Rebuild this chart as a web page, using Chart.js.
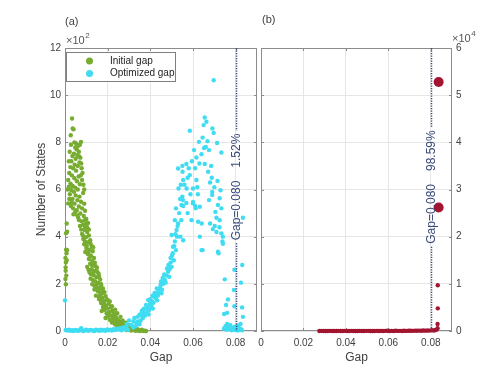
<!DOCTYPE html>
<html>
<head>
<meta charset="utf-8">
<script src="https://cdn.jsdelivr.net/npm/chart.js@4.4.1/dist/chart.umd.min.js"></script>
<style>
  html, body { margin: 0; padding: 0; background: #fff; }
  #wrap { position: relative; width: 500px; height: 374px; }
  #wrap canvas { position: absolute; left: 0; top: 0; }
</style>
</head>
<body>
<div id="wrap">
  <canvas id="chartA" width="500" height="374"></canvas>
  <canvas id="chartB" width="500" height="374"></canvas>
</div>
<script>
// --- Data (gap, number of states) ---
const gapTicks = [0, 0.02, 0.04, 0.06, 0.08];
const statesTicksA = [0, 200, 400, 600, 800, 1000, 1200];      // shown as x10^2
const statesTicksB = [0, 10000, 20000, 30000, 40000, 50000, 60000]; // shown as x10^4
const gapThreshold = 0.080;
const shareLabels = ['1.52%', '98.59%'];
const seriesNames = ['Initial gap', 'Optimized gap'];

const initialGap = [
  [0.0002,220],[0.0003,255],[0.0004,290],[0.0002,310],[0.0005,345],[0.0003,270],[0.0006,235],
  [0.0008,300],[0.0010,343],[0.0010,421],[0.0008,456],[0.0015,541],[0.0005,415],[0.0004,198],[0.0007,330],
  [0.0033,901],[0.0036,859],[0.0040,855],[0.0027,830],[0.0075,802],[0.0070,790],[0.0062,785],[0.0055,770],
  [0.0048,778],[0.0065,760],[0.0042,752],[0.0058,745],[0.0072,735],[0.0035,742],[0.0050,730],[0.0030,720],
  [0.0068,715],[0.0045,705],[0.0060,700],[0.0025,695],[0.0038,690],[0.0078,690],[0.0052,680],[0.0020,670],
  [0.0032,660],[0.0064,655],[0.0044,648],[0.0015,640],[0.0056,635],[0.0026,625],[0.0070,622],[0.0036,615],
  [0.0048,608],[0.0018,612],[0.0080,640],[0.0060,600],[0.0029,598],[0.0042,590],
  [0.0023,580],[0.0050,575],[0.0068,570],[0.0085,585],[0.0035,560],[0.0058,555],[0.0075,548],[0.0045,540],
  [0.0090,540],[0.0028,530],[0.0065,528],[0.0080,520],[0.0055,512],[0.0094,510],[0.0072,498],[0.0040,495],
  [0.0088,488],[0.0062,480],[0.0100,475],[0.0078,465],[0.0108,458],[0.0085,450],[0.0070,445],[0.0095,440],
  [0.0092,428],[0.0104,420],[0.0080,412],[0.0112,405],[0.0098,398],[0.0086,390],[0.0118,385],[0.0106,375],
  [0.0090,368],[0.0125,360],[0.0100,352],[0.0115,345],[0.0130,338],[0.0095,335],[0.0108,325],[0.0122,318],
  [0.0136,310],[0.0112,305],[0.0128,298],
  [0.0140,290],[0.0118,285],[0.0132,278],[0.0104,272],[0.0150,268],[0.0125,262],[0.0140,255],[0.0115,248],
  [0.0158,242],[0.0135,236],[0.0148,228],[0.0120,222],[0.0165,218],[0.0142,210],[0.0155,204],[0.0128,198],
  [0.0170,195],[0.0148,188],[0.0162,182],[0.0138,176],[0.0175,172],
  [0.0155,168],[0.0180,162],[0.0168,155],[0.0145,150],[0.0190,148],[0.0175,140],[0.0160,135],[0.0200,132],
  [0.0185,125],[0.0170,118],[0.0205,115],[0.0192,108],[0.0178,102],[0.0215,100],[0.0200,95],[0.0185,90],
  [0.0222,86],[0.0208,80],[0.0195,75],[0.0230,72],[0.0215,66],[0.0200,62],[0.0238,60],[0.0225,55],
  [0.0245,50],[0.0210,48],[0.0232,45],[0.0255,42],[0.0240,38],[0.0220,36],[0.0265,34],[0.0250,30],
  [0.0235,28],[0.0275,26],[0.0260,22],[0.0285,20],[0.0245,18],[0.0270,16],[0.0295,14],[0.0305,12],[0.0280,10],
  [0.0300,8],[0.0315,6],[0.0325,5],[0.0290,4],[0.0335,3],[0.0345,2],[0.0355,2],[0.0365,1],[0.0375,1],
  [0.0310,2],[0.0330,1],[0.0350,0],[0.0370,0],[0.0380,0],
  [0.0012,600],[0.0018,720],[0.0022,760],[0.0028,790],[0.0044,800],[0.0052,795],[0.0066,740],[0.0076,710],
  [0.0082,670],[0.0074,660],[0.0086,620],[0.0090,600],[0.0020,560],[0.0032,545],[0.0038,520],[0.0048,505],
  [0.0058,490],[0.0066,470],[0.0092,470],[0.0098,455],[0.0104,440],[0.0112,430],[0.0076,430],[0.0084,405],
  [0.0094,380],[0.0102,360],[0.0120,370],[0.0110,335],[0.0118,320],[0.0132,355],[0.0126,280],[0.0144,275],
  [0.0110,260],[0.0134,250],[0.0152,250],[0.0122,240],[0.0160,230],[0.0132,215],[0.0150,200],[0.0140,190],
  [0.0168,200],[0.0178,180],[0.0152,175],[0.0165,160],[0.0185,165],[0.0158,145],[0.0195,135],[0.0168,128],
  [0.0182,112],[0.0210,125],[0.0190,98],[0.0220,105],[0.0172,85],[0.0235,90],[0.0205,70],[0.0245,75],
  [0.0190,55],[0.0260,60],[0.0228,40],[0.0270,45],[0.0285,35],[0.0255,25],[0.0300,25],[0.0318,18],
  [0.0340,8],[0.0360,5],[0.0322,12]
];

const optimizedGap = [
  [0.0000,130],[0.0076,12],
  [0.0003,4],[0.0010,2],[0.0018,5],[0.0025,1],[0.0033,3],[0.0040,0],[0.0048,4],[0.0055,2],[0.0063,1],
  [0.0070,5],[0.0078,3],[0.0085,0],[0.0093,2],[0.0100,6],[0.0108,1],[0.0115,3],[0.0123,4],[0.0130,2],
  [0.0138,0],[0.0145,5],[0.0153,3],[0.0160,1],[0.0168,6],[0.0175,2],[0.0183,4],[0.0190,1],[0.0198,7],
  [0.0205,3],[0.0213,5],[0.0220,2],[0.0228,8],[0.0235,4],[0.0243,10],[0.0250,6],[0.0258,12],[0.0265,3],
  [0.0273,15],[0.0280,8],[0.0288,20],[0.0295,5],
  [0.0290,30],[0.0300,45],[0.0310,25],[0.0320,40],[0.0325,55],[0.0330,20],[0.0335,35],[0.0340,60],[0.0345,28],
  [0.0350,70],[0.0355,45],[0.0360,85],[0.0366,89],[0.0365,55],[0.0370,95],[0.0375,65],[0.0380,110],[0.0385,80],
  [0.0390,131],[0.0395,90],[0.0400,135],[0.0405,105],[0.0410,150],[0.0415,120],[0.0420,161],[0.0425,140],
  [0.0430,180],[0.0435,150],[0.0445,182],[0.0440,160],[0.0450,210],[0.0455,175],
  [0.0460,200],[0.0468,216],[0.0475,235],[0.0483,251],[0.0490,262],[0.0495,290],[0.0500,272],[0.0502,320],
  [0.0506,357],[0.0510,300],[0.0515,380],[0.0520,343],[0.0523,428],[0.0500,407],[0.0515,470],[0.0530,456],
  [0.0525,400],[0.0541,400],[0.0554,385],[0.0546,534],[0.0553,555],
  [0.0697,1063],[0.0655,905],[0.0663,887],[0.0650,873],[0.0691,859],[0.0697,840],[0.0585,849],[0.0628,802],
  [0.0668,805],[0.0713,797],[0.0605,767],[0.0652,776],[0.0675,767],[0.0733,757],[0.0616,736],[0.0640,750],
  [0.0655,708],[0.0569,708],[0.0530,689],[0.0550,700],[0.0580,690],[0.0551,675],[0.0585,661],[0.0616,640],
  [0.0554,640],[0.0543,620],[0.0671,675],[0.0688,650],[0.0680,630],[0.0715,636],[0.0600,604],[0.0570,604],
  [0.0532,604],[0.0690,590],[0.0729,597],[0.0588,580],[0.0623,580],[0.0550,570],[0.0569,543],[0.0600,547],
  [0.0690,577],[0.0725,563],[0.0554,530],[0.0610,530],[0.0520,520],[0.0675,555],
  [0.0600,541],[0.0613,520],[0.0632,527],[0.0717,534],[0.0705,505],[0.0733,520],[0.0593,470],[0.0624,463],
  [0.0641,456],[0.0680,456],[0.0702,445],[0.0724,440],[0.0733,414],[0.0632,400],[0.0640,343],[0.0717,336],
  [0.0738,380],[0.0693,432],[0.0710,420],[0.0740,400],[0.0740,370],[0.0720,330],[0.0645,343],
  [0.0749,219],[0.0764,134],[0.0755,110],[0.0746,72],[0.0760,77],[0.0794,260],[0.0792,174],[0.0794,105],
  [0.0834,480],[0.0831,280],[0.0825,205],[0.0830,100],[0.0834,60],[0.0823,30],
  [0.0745,10],[0.0752,20],[0.0758,5],[0.0765,15],[0.0770,8],[0.0775,25],[0.0780,3],[0.0785,12],[0.0790,6],
  [0.0795,18],[0.0800,4],[0.0805,10],[0.0810,2],[0.0815,14],[0.0820,5],[0.0825,8],[0.0830,3],[0.0760,30],[0.0810,22],
  [0.0320,15],[0.0340,40],[0.0350,30],[0.0358,65],[0.0368,75],[0.0378,95],[0.0388,100],[0.0392,70],
  [0.0398,115],[0.0408,125],[0.0412,95],[0.0418,145],[0.0428,160],[0.0432,130],[0.0438,175],[0.0448,195],
  [0.0452,160],[0.0458,225],[0.0465,240],[0.0472,205],[0.0478,265],[0.0485,280],[0.0488,230],[0.0495,310],
  [0.0505,330],[0.0512,360],[0.0518,410],[0.0528,445],[0.0535,500],[0.0545,470],[0.0540,560],[0.0560,620],
  [0.0575,650],[0.0595,720],[0.0610,690],[0.0630,710],[0.0645,820],[0.0660,780],[0.0685,700],[0.0700,610],
  [0.0710,480],[0.0725,470],[0.0575,500],[0.0620,610]
];

const finalGap = [
  [0.0275,0],[0.0285,20],[0.0295,0],[0.0305,10],[0.0315,0],[0.0325,30],[0.0335,0],[0.0345,15],[0.0355,0],
  [0.0365,25],[0.0375,5],[0.0385,0],[0.0395,20],[0.0405,10],[0.0415,0],[0.0425,30],[0.0435,5],[0.0445,15],
  [0.0455,0],[0.0465,25],[0.0475,10],[0.0485,0],[0.0495,20],[0.0505,35],[0.0515,5],[0.0525,15],[0.0535,0],
  [0.0545,30],[0.0555,10],[0.0565,20],[0.0575,0],[0.0585,25],[0.0595,40],[0.0605,10],[0.0615,30],[0.0625,15],
  [0.0635,45],[0.0645,20],[0.0655,35],[0.0665,10],[0.0675,50],[0.0685,25],[0.0695,40],[0.0705,60],[0.0715,30],
  [0.0725,70],[0.0735,45],[0.0745,80],[0.0755,60],[0.0765,100],[0.0775,75],[0.0785,120],[0.0795,90],
  [0.0805,150],[0.0815,110],[0.0822,200],[0.0828,300],[0.0832,600],[0.0832,1500],[0.0833,4800],[0.0833,9700]
];
const finalGapLarge = [[0.0837,26200],[0.0837,52800]];

// --- Styles ---
const FONT = "'Liberation Sans', Arial, Helvetica, sans-serif";
const GREEN = '#77ac30';
const CYAN = '#3fdcf2';
const RED = '#a2142f';
const NAVY = '#3a4a7c';
const AXIS = '#8c8c8c';
const TXT = '#404040';

const toXY = arr => arr.map(p => ({ x: p[0], y: p[1] }));

function fixTicks(values) {
  return s => { s.ticks = values.map(v => ({ value: v })); };
}

// frame, inward ticks, threshold line and text extras
function panelPlugin(cfg) {
  return {
    id: 'panel' + cfg.name,
    beforeDatasetsDraw(chart) {
      const { ctx, chartArea: a, scales } = chart;
      ctx.save();
      ctx.strokeStyle = AXIS;
      ctx.lineWidth = 1;
      ctx.strokeRect(a.left + 0.5, a.top + 0.5, a.right - a.left - 1, a.bottom - a.top - 1);
      ctx.beginPath();
      gapTicks.forEach(v => {
        const x = Math.round(scales.x.getPixelForValue(v)) + 0.5;
        ctx.moveTo(x, a.bottom); ctx.lineTo(x, a.bottom - 3);
        ctx.moveTo(x, a.top); ctx.lineTo(x, a.top + 3);
      });
      cfg.yTicks.forEach(v => {
        const y = Math.round(scales.y.getPixelForValue(v)) + 0.5;
        ctx.moveTo(a.left, y); ctx.lineTo(a.left + 3, y);
        ctx.moveTo(a.right, y); ctx.lineTo(a.right - 3, y);
      });
      ctx.stroke();
      ctx.restore();
    },
    afterDatasetsDraw(chart) {
      const { ctx, chartArea: a, scales } = chart;
      ctx.save();
      // threshold line with rotated label
      const x = Math.round(scales.x.getPixelForValue(gapThreshold)) + 0.5;
      ctx.font = '12px ' + FONT;
      const t1 = 'Gap=0.080', t2 = cfg.share;
      const w1 = ctx.measureText(t1).width, w2 = ctx.measureText(t2).width;
      const gap = 13;
      const total = w1 + gap + w2;
      const cy = 187;
      const textBottom = cy + total / 2, textTop = cy - total / 2;
      ctx.strokeStyle = NAVY;
      ctx.lineWidth = 1.5;
      ctx.setLineDash([1.2, 1.3]);
      ctx.beginPath();
      ctx.moveTo(x, a.top); ctx.lineTo(x, textTop - 3);
      ctx.moveTo(x, textBottom + 3); ctx.lineTo(x, a.bottom);
      ctx.stroke();
      ctx.setLineDash([]);
      ctx.translate(x, textBottom);
      ctx.rotate(-Math.PI / 2);
      ctx.fillStyle = NAVY;
      ctx.textBaseline = 'middle';
      ctx.textAlign = 'left';
      ctx.fillText(t1, 0, 0);
      ctx.fillText(t2, w1 + gap, 0);
      ctx.restore();

      // texts around the axes
      ctx.save();
      ctx.fillStyle = TXT;
      ctx.textBaseline = 'middle';
      ctx.font = '11px ' + FONT;
      ctx.textAlign = 'left';
      ctx.fillText(cfg.tag, cfg.tagX, cfg.tagY);
      // exponent
      ctx.font = '11px ' + FONT;
      ctx.fillStyle = '#555';
      ctx.fillText('\u00d710', cfg.expX, cfg.expY);
      const ew = ctx.measureText('\u00d710').width;
      ctx.font = '8px ' + FONT;
      ctx.fillText(cfg.exp, cfg.expX + ew + 0.5, cfg.expY - 5);
      // axis titles
      ctx.fillStyle = TXT;
      ctx.font = '12px ' + FONT;
      ctx.textAlign = 'center';
      ctx.fillText('Gap', (a.left + a.right) / 2, 358);
      if (cfg.yTitle) {
        ctx.save();
        ctx.translate(42, (a.top + a.bottom) / 2);
        ctx.rotate(-Math.PI / 2);
        ctx.fillText(cfg.yTitle, 0, 0);
        ctx.restore();
      }
      // legend
      if (cfg.legend) {
        ctx.fillStyle = '#fff';
        ctx.fillRect(66.5, 52.5, 109, 29);
        ctx.strokeStyle = '#7f7f7f';
        ctx.lineWidth = 1;
        ctx.strokeRect(66.5, 52.5, 109, 29);
        [[GREEN, seriesNames[0], 61], [CYAN, seriesNames[1], 73.5]].forEach(([c, label, y]) => {
          ctx.fillStyle = c;
          ctx.beginPath();
          ctx.arc(89.5, y, 3.5, 0, Math.PI * 2);
          ctx.fill();
          ctx.fillStyle = '#222';
          ctx.font = '10px ' + FONT;
          ctx.textAlign = 'left';
          ctx.fillText(label, 110, y);
        });
      }
      ctx.restore();
    }
  };
}

function baseScales(yTicks, yMax, yDiv, yPos, yWidth) {
  return {
    x: {
      type: 'linear', min: 0, max: 0.09,
      afterBuildTicks: fixTicks(gapTicks),
      afterFit: s => { s.height = 43; },
      grid: { color: '#e6e6e6', drawTicks: false },
      border: { display: false },
      ticks: {
        padding: 6, color: TXT, font: { family: FONT, size: 10 },
        maxRotation: 0, autoSkip: false,
        callback: v => (v === 0 ? '0' : v.toFixed(2))
      }
    },
    y: {
      type: 'linear', position: yPos, min: 0, max: yMax,
      afterBuildTicks: fixTicks(yTicks),
      afterFit: s => { s.width = yWidth; },
      grid: { color: '#e6e6e6', drawTicks: false },
      border: { display: false },
      ticks: {
        padding: 4, color: TXT, font: { family: FONT, size: 10 },
        autoSkip: false,
        callback: v => String(Math.round(v / yDiv))
      }
    }
  };
}

const common = {
  responsive: false,
  animation: false,
  events: [],
  plugins: { legend: { display: false }, tooltip: { enabled: false } }
};

// --- Panel (a) ---
new Chart(document.getElementById('chartA'), {
  type: 'scatter',
  data: {
    datasets: [
      { label: seriesNames[0], data: toXY(initialGap), order: 2, clip: 6,
        pointRadius: 2.2, pointBorderWidth: 0, pointBackgroundColor: GREEN },
      { label: seriesNames[1], data: toXY(optimizedGap), order: 1, clip: 6,
        pointRadius: 2.2, pointBorderWidth: 0, pointBackgroundColor: CYAN }
    ]
  },
  options: Object.assign({}, common, {
    layout: { padding: { left: 0, right: 243, top: 48, bottom: 0 } },
    scales: baseScales(statesTicksA, 1200, 100, 'left', 65)
  }),
  plugins: [panelPlugin({
    name: 'A', yTicks: statesTicksA, share: shareLabels[0], legend: true,
    tag: '(a)', tagX: 65, tagY: 22, exp: '2', expX: 66, expY: 41,
    yTitle: 'Number of States'
  })]
});

// --- Panel (b) ---
new Chart(document.getElementById('chartB'), {
  type: 'scatter',
  data: {
    datasets: [
      { label: 'large', data: toXY(finalGapLarge), clip: 8,
        pointRadius: 5, pointBorderWidth: 0, pointBackgroundColor: RED },
      { label: 'final', data: toXY(finalGap), clip: 6,
        pointRadius: 2.2, pointBorderWidth: 0, pointBackgroundColor: RED }
    ]
  },
  options: Object.assign({}, common, {
    layout: { padding: { left: 261, right: 0, top: 48, bottom: 0 } },
    scales: baseScales(statesTicksB, 60000, 10000, 'right', 48)
  }),
  plugins: [panelPlugin({
    name: 'B', yTicks: statesTicksB, share: shareLabels[1], legend: false,
    tag: '(b)', tagX: 262, tagY: 20, exp: '4', expX: 452, expY: 39,
    yTitle: null
  })]
});
</script>
</body>
</html>
